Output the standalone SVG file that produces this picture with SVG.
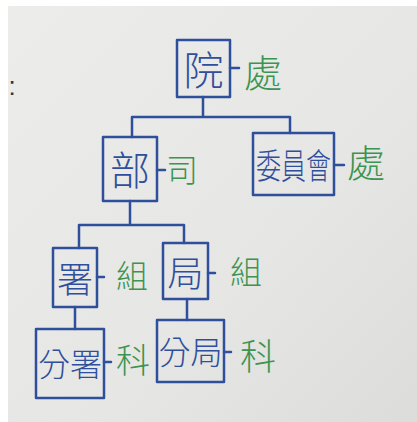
<svg xmlns="http://www.w3.org/2000/svg" width="417" height="422" viewBox="0 0 417 422">
<defs>
<linearGradient id="paper" x1="0" y1="0" x2="1" y2="1">
<stop offset="0" stop-color="#ececea"/>
<stop offset="0.6" stop-color="#e6e6e4"/>
<stop offset="1" stop-color="#dcdcda"/>
</linearGradient>
<style>
.box{fill:none;stroke:#2f4f9c;stroke-width:2.5;stroke-linejoin:round}
.ln{fill:none;stroke:#2f4f9c;stroke-width:2.5;stroke-linecap:round}
.bt{fill:#2f4f9c;font-family:"Noto Sans CJK TC","Noto Sans CJK SC",sans-serif;font-weight:300;text-anchor:middle;dominant-baseline:central}
.gt{fill:#3b9450;font-family:"Noto Sans CJK TC","Noto Sans CJK SC",sans-serif;font-weight:300;text-anchor:middle;dominant-baseline:central}
</style>
</defs>
<rect x="0" y="0" width="417" height="422" fill="#ffffff"/>
<rect x="8" y="6" width="409" height="416" fill="url(#paper)"/>
<text x="12" y="86" font-family="Liberation Sans,sans-serif" font-size="26" fill="#333" text-anchor="middle" dominant-baseline="central">:</text>
<g id="connectors">
<path class="ln" d="M203 97 V117 M132 117 H290 M132 117 V137 M290 117 V133"/>
<path class="ln" d="M130 201 V225 M79 225 H184 M79 225 V248 M184 225 V243"/>
<path class="ln" d="M75 307 V329 M187 299 V320"/>
<path class="ln" d="M230 68 H239 M157 170 H165 M334 165 H344 M97 277 H104 M208 273 H215 M104 362 H111 M224 352 H231"/>
</g>
<g id="n-yuan"><rect class="box" x="177" y="40" width="53" height="57"/><text class="bt" x="203.5" y="68" font-size="40">院</text></g>
<g id="l-yuan"><text class="gt" x="263" y="70" font-size="38">處</text></g>
<g id="n-bu"><rect class="box" x="103" y="137" width="54" height="64"/><text class="bt" x="130" y="168" font-size="40">部</text></g>
<g id="l-bu"><text class="gt" x="182" y="168" font-size="32">司</text></g>
<g id="n-wyh"><rect class="box" x="253" y="133" width="81" height="62"/><text class="bt" x="293.5" y="116" font-size="25" transform="translate(0 164) scale(1 1.4) translate(0 -116)">委員會</text></g>
<g id="l-wyh"><text class="gt" x="366" y="160" font-size="38">處</text></g>
<g id="n-shu"><rect class="box" x="53" y="248" width="44" height="59"/><text class="bt" x="75" y="277" font-size="36">署</text></g>
<g id="l-shu"><text class="gt" x="132" y="274" font-size="32">組</text></g>
<g id="n-ju"><rect class="box" x="163" y="243" width="45" height="56"/><text class="bt" x="185.5" y="271" font-size="36">局</text></g>
<g id="l-ju"><text class="gt" x="246" y="270" font-size="32">組</text></g>
<g id="n-fenshu"><rect class="box" x="36" y="329" width="68" height="69"/><text class="bt" x="70" y="362" font-size="32">分署</text></g>
<g id="l-fenshu"><text class="gt" x="133" y="358" font-size="34">科</text></g>
<g id="n-fenju"><rect class="box" x="157" y="320" width="67" height="62"/><text class="bt" x="190.5" y="350" font-size="32">分局</text></g>
<g id="l-fenju"><text class="gt" x="258" y="354" font-size="36">科</text></g>
</svg>
